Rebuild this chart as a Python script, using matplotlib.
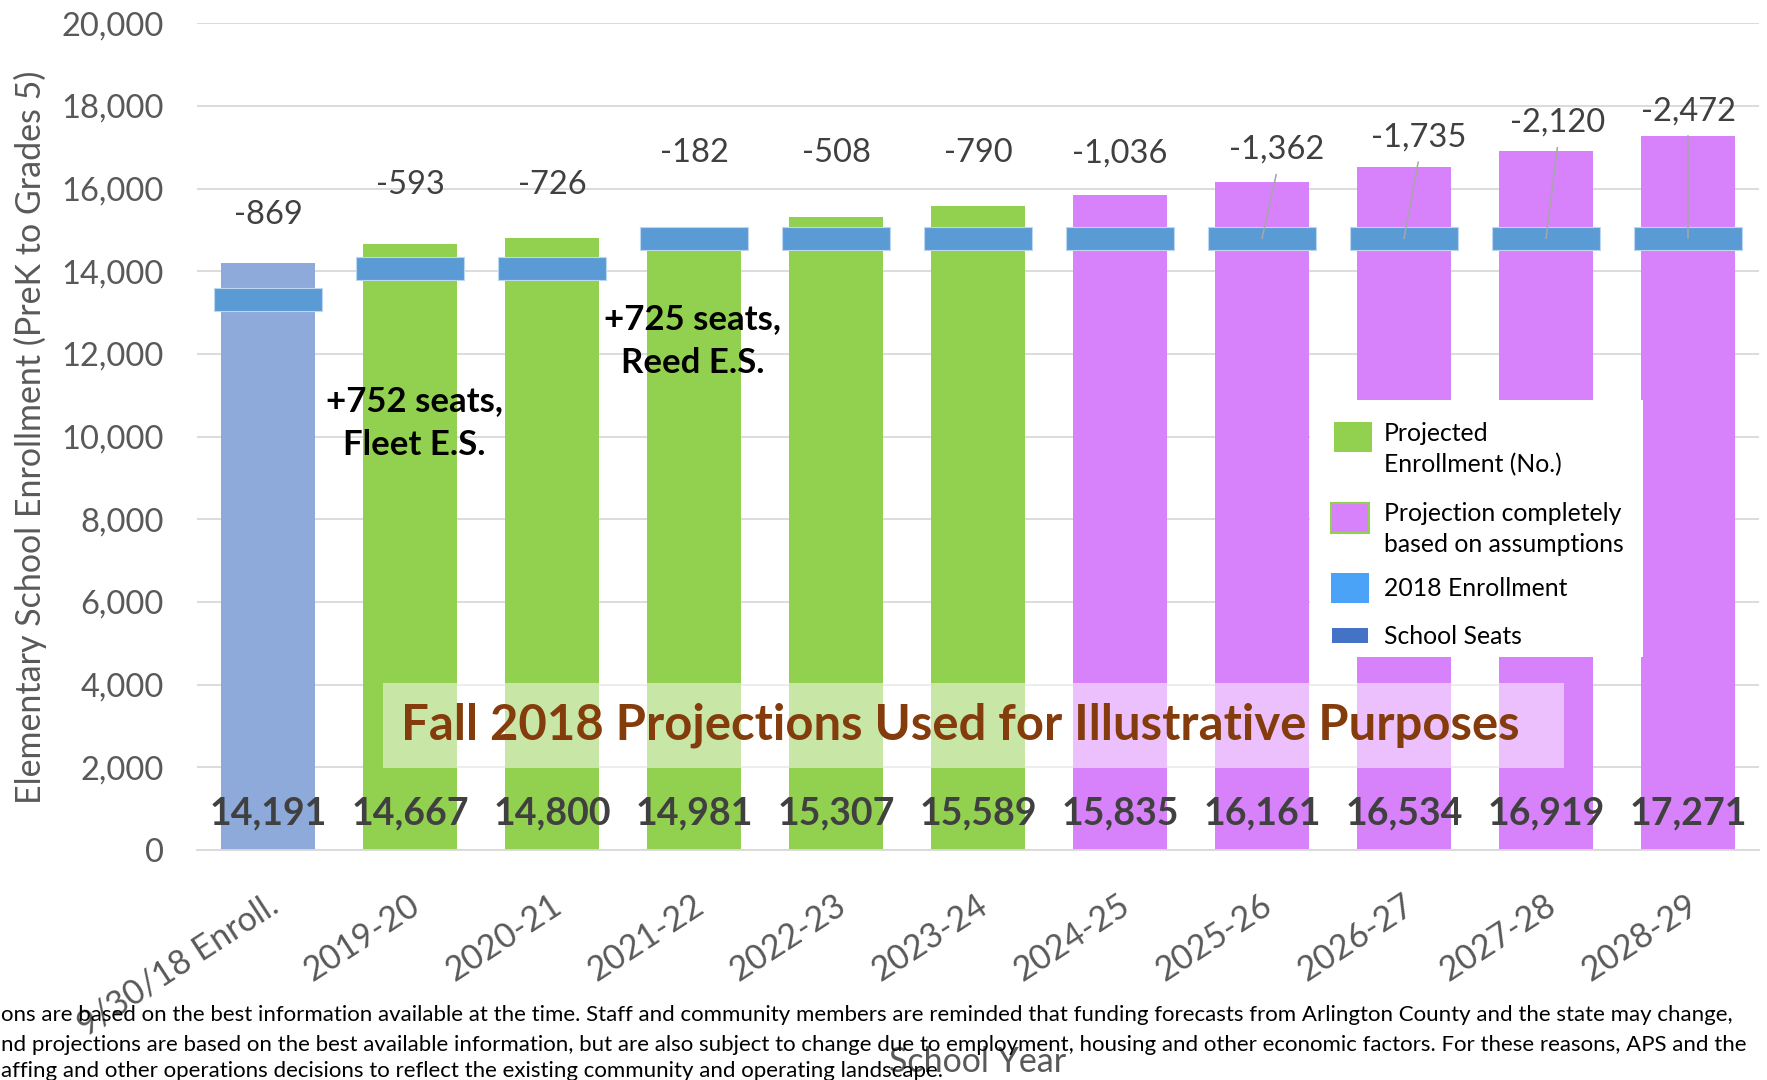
import matplotlib
matplotlib.use("Agg")
import matplotlib.pyplot as plt
from matplotlib.patches import Rectangle
import matplotlib.transforms as mtransforms

# ---------------- data ----------------
categories = ["9/30/18 Enroll.", "2019-20", "2020-21", "2021-22", "2022-23", "2023-24",
              "2024-25", "2025-26", "2026-27", "2027-28", "2028-29"]
enrollment = [14191, 14667, 14800, 14981, 15307, 15589, 15835, 16161, 16534, 16919, 17271]
seat_gap = [-869, -593, -726, -182, -508, -790, -1036, -1362, -1735, -2120, -2472]
school_seats = [e + g for e, g in zip(enrollment, seat_gap)]
bar_kind = ["actual"] + ["projected"] * 5 + ["assumed"] * 5
y_ticks = list(range(0, 20001, 2000))

# ---------------- layout / style ----------------
W, H, DPI = 1767, 1080, 100
FONT = ["Lato", "DejaVu Sans"]
plt.rcParams["font.family"] = FONT
kind_color = {"actual": "#8EAADB", "projected": "#92D050", "assumed": "#D782FB"}
SEAT_COLOR = "#5B9BD5"
GRID = "#D9D9D9"
TXT = "#595959"
DARK = "#404040"

gap_label_y = [15360, 16100, 16100, 16860, 16860, 16860, 16860, 16940, 17240, 17590, 17870]
gap_label_dx = [0, 0, 0, 0, 0, 0, 0, 0.10, 0.10, 0.08, 0.0]
leader_idx = [7, 8, 9, 10]

fig = plt.figure(figsize=(W / DPI, H / DPI), dpi=DPI)
ax_l, ax_r, ax_b, ax_t = 197, 1759, 850, 23.3
ax = fig.add_axes([ax_l / W, 1 - ax_b / H, (ax_r - ax_l) / W, (ax_b - ax_t) / H])


def fx(px):
    return px / W


def fy(py):
    return 1 - py / H


x = list(range(len(categories)))
ax.set_xlim(-0.5, len(categories) - 0.5)
ax.set_ylim(0, 20000)

# gridlines
ax.set_yticks(y_ticks)
ax.yaxis.grid(True, color=GRID, lw=1.3, zorder=0)
ax.set_axisbelow(True)
for s in ["top", "right", "left"]:
    ax.spines[s].set_visible(False)
ax.spines["bottom"].set_color(GRID)
ax.spines["bottom"].set_linewidth(1.3)
ax.tick_params(axis="both", length=0)
ax.tick_params(axis="y", pad=24, labelsize=23.5, labelcolor=TXT)
ax.set_yticklabels([f"{v:,}" for v in y_ticks])

# enrollment bars
ax.bar(x, enrollment, width=0.66, color=[kind_color[k] for k in bar_kind], zorder=2)

# school seats bars
seat_h = 560
ax.bar(x, [seat_h] * len(x), bottom=[s - seat_h / 2 for s in school_seats], width=0.76,
       color=SEAT_COLOR, edgecolor="#BDD7EE", linewidth=0.8, zorder=3)

# bottom value labels
for i, v in enumerate(enrollment):
    ax.text(i, 880, f"{v:,}", ha="center", va="center", fontsize=27, fontweight="bold",
            color=DARK, zorder=6)

# gap labels + leader lines
for i, g in enumerate(seat_gap):
    ax.text(i + gap_label_dx[i], gap_label_y[i], f"{g:,}", ha="center", va="center",
            fontsize=23.5, color=DARK, zorder=6)
for i in leader_idx:
    ax.plot([i, i + gap_label_dx[i]], [school_seats[i], gap_label_y[i] - 600],
            color="#A6A6A6", lw=1.1, zorder=4)

# seat additions annotations
ax.text(1.03, 10330, "+752 seats,\nFleet E.S.", ha="center", va="center", fontsize=25,
        fontweight="bold", color="black", linespacing=1.45, zorder=6)
ax.text(2.99, 12320, "+725 seats,\nReed E.S.", ha="center", va="center", fontsize=25,
        fontweight="bold", color="black", linespacing=1.45, zorder=6)

# x tick labels
ax.set_xticks(x)
ax.set_xticklabels(categories, rotation=33, ha="right", va="top", rotation_mode="anchor",
                   fontsize=24.5, color=TXT)
ax.tick_params(axis="x", pad=28)
off = mtransforms.ScaledTranslation(-2 / DPI, 0, fig.dpi_scale_trans)
for lab in ax.get_xticklabels():
    lab.set_transform(lab.get_transform() + off)

# axis titles
fig.text(fx(30), fy(437), "Elementary School Enrollment (PreK to Grades 5)", rotation=90,
         ha="center", va="center", fontsize=24.5, color=TXT)
fig.text(fx(978), fy(1062), "School Year", ha="center", va="center", fontsize=24.5, color=TXT)

# banner
fig.patches.append(Rectangle((fx(383), fy(768)), fx(1564) - fx(383), fy(683) - fy(768),
                             transform=fig.transFigure, facecolor="white", alpha=0.5,
                             edgecolor="none", zorder=5))
fig.text(fx(960), fy(725), "Fall 2018 Projections Used for Illustrative Purposes",
         ha="center", va="center", fontsize=35.3, fontweight="bold", color="#843C0C", zorder=6)

# legend (manual)
fig.patches.append(Rectangle((fx(1310), fy(657)), fx(1643) - fx(1310), fy(400) - fy(657),
                             transform=fig.transFigure, facecolor="white", edgecolor="none",
                             zorder=7))
leg_items = [
    ((1334, 422, 38, 30), kind_color["projected"], "none", "Projected\nEnrollment (No.)", 449),
    ((1331, 503, 38, 30), kind_color["assumed"], kind_color["projected"],
     "Projection completely\nbased on assumptions", 529),
    ((1331, 573, 38, 30), "#4BA3F7", "none", "2018 Enrollment", 589),
    ((1332, 628, 36, 15), "#4472C4", "none", "School Seats", 637),
]
for (px, py, pw, ph), fc, ec, label, ty in leg_items:
    fig.patches.append(Rectangle((fx(px), fy(py + ph)), fx(pw), ph / H,
                                 transform=fig.transFigure, facecolor=fc, edgecolor=ec,
                                 linewidth=1.5, zorder=8))
    fig.text(fx(1384), fy(ty), label, ha="left", va="center", fontsize=17.8, color="black",
             linespacing=1.45, zorder=9)

# footnote (left part cut off in original)
foot_lines = [
    "ons are based on the best information available at the time. Staff and community members are reminded that funding forecasts from Arlington County and the state may change,",
    "nd projections are based on the best available information, but are also subject to change due to employment, housing and other economic factors. For these reasons, APS and the",
    "affing and other operations decisions to reflect the existing community and operating landscape.",
]
foot_y = [1015, 1045, 1071]
foot_family = ["Liberation Sans Narrow", "Lato", "DejaVu Sans"]
ft = []
for ln, yy in zip(foot_lines, foot_y):
    ft.append(fig.text(fx(1), fy(yy), ln, ha="left", va="center", fontsize=15,
                       color="black", family=foot_family))
renderer = fig.canvas.get_renderer()
w2 = ft[1].get_window_extent(renderer).width
scale = (1747 - 1) / w2
for t in ft:
    t.set_fontsize(15 * scale)

fig.savefig("out.png", dpi=DPI)
